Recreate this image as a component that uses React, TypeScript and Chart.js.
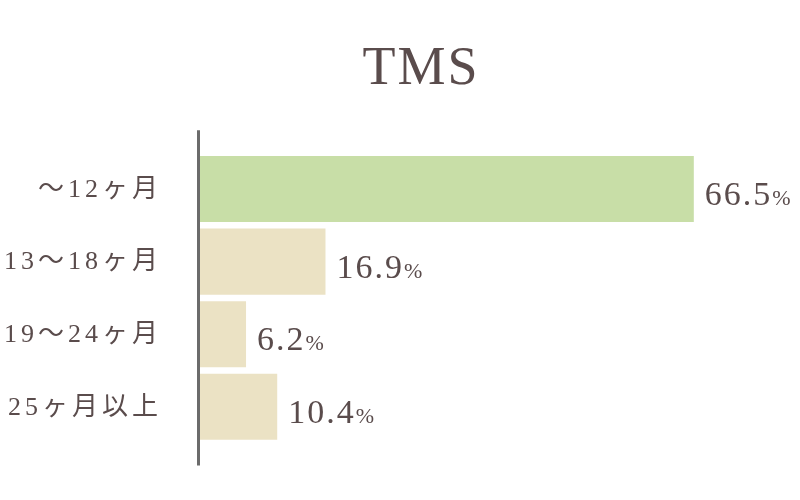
import React, { useEffect, useRef } from "react";
import { Chart, registerables } from "chart.js";

Chart.register(...registerables);

const categories = ["〜12ヶ月", "13〜18ヶ月", "19〜24ヶ月", "25ヶ月以上"];
const values = [66.5, 16.9, 6.2, 10.4];
const barColors = ["#c8dea7", "#ebe2c4", "#ebe2c4", "#ebe2c4"];
const titleText = "TMS";
const valueSuffix = "%";
const xMax = 80.8;

const TEXT = "#5a4c4c";
const SERIF = "'Liberation Serif', 'Noto Sans CJK JP', serif";

// letter spacing: title (drawn before datasets) and tick labels (drawn after, z: 1)
const spacingPlugin = {
  id: "spacing",
  beforeDraw(chart: any) {
    (chart.ctx as any).letterSpacing = "2px";
  },
  afterDatasetsDraw(chart: any) {
    (chart.ctx as any).letterSpacing = "4px";
  },
  afterDraw(chart: any) {
    (chart.ctx as any).letterSpacing = "0px";
  },
};

const axisLinePlugin = {
  id: "axisLine",
  afterDatasetsDraw(chart: any) {
    const { ctx, chartArea } = chart;
    const band = (chartArea.bottom - chartArea.top) / categories.length;
    const ext = band * 0.31;
    ctx.save();
    (ctx as any).letterSpacing = "0px";
    ctx.strokeStyle = "#6b6b6b";
    ctx.lineWidth = 3;
    ctx.beginPath();
    ctx.moveTo(chartArea.left - 1.5, chartArea.top - ext);
    ctx.lineTo(chartArea.left - 1.5, chartArea.bottom + ext);
    ctx.stroke();
    ctx.restore();
  },
};

const valueLabelPlugin = {
  id: "valueLabels",
  afterDatasetsDraw(chart: any) {
    const { ctx } = chart;
    const meta = chart.getDatasetMeta(0);
    ctx.save();
    ctx.fillStyle = TEXT;
    ctx.textAlign = "left";
    ctx.textBaseline = "alphabetic";
    meta.data.forEach((bar: any, i: number) => {
      const x = bar.x + 11;
      const y = bar.y + 16;
      const num = values[i].toFixed(1);
      ctx.font = `34px ${SERIF}`;
      (ctx as any).letterSpacing = "2px";
      ctx.fillText(num, x, y);
      const w = ctx.measureText(num).width;
      ctx.font = `22px ${SERIF}`;
      (ctx as any).letterSpacing = "0px";
      ctx.fillText(valueSuffix, x + w, y);
    });
    ctx.restore();
  },
};

export default function App() {
  const canvasRef = useRef<HTMLCanvasElement | null>(null);

  useEffect(() => {
    if (!canvasRef.current) return;
    const chart = new Chart(canvasRef.current, {
      type: "bar",
      data: {
        labels: categories,
        datasets: [
          {
            data: values,
            backgroundColor: barColors,
            borderWidth: 0,
            categoryPercentage: 1,
            barPercentage: 0.91,
          },
        ],
      },
      options: {
        indexAxis: "y",
        responsive: false,
        animation: false,
        layout: { padding: { left: 0, right: -42, top: 0, bottom: 57 } },
        plugins: {
          legend: { display: false },
          tooltip: { enabled: false },
          title: {
            display: true,
            text: titleText,
            color: TEXT,
            font: { family: SERIF, size: 54, weight: "normal" },
            padding: { top: 37, bottom: 51 },
          },
        },
        scales: {
          x: { display: false, min: 0, max: xMax },
          y: {
            grid: { display: false, drawTicks: false },
            border: { display: false },
            ticks: {
              color: TEXT,
              font: { family: SERIF, size: 26 },
              padding: 38,
              labelOffset: 1,
              z: 1,
            },
            afterFit: (s: any) => {
              s.width = 200;
            },
          },
        },
      } as any,
      plugins: [axisLinePlugin, valueLabelPlugin, spacingPlugin],
    });
    return () => chart.destroy();
  }, []);

  return (
    <div style={{ position: "absolute", left: 0, top: 0, width: 800, height: 500, background: "#ffffff" }}>
      <canvas ref={canvasRef} width={800} height={500} />
    </div>
  );
}
